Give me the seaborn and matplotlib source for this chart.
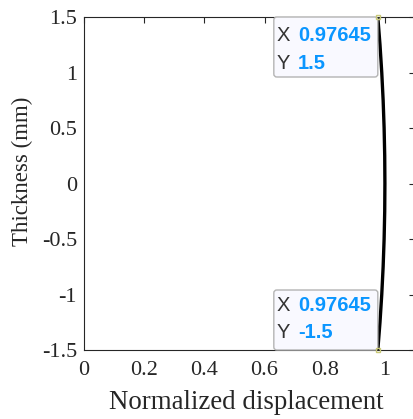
import numpy as np
import pandas as pd
import seaborn as sns
import matplotlib
matplotlib.use("Agg")
import matplotlib.pyplot as plt
from matplotlib.patches import FancyBboxPatch

# Data
thickness = [-1.5, -1.25, -1.0, -0.75, -0.5, -0.25, 0.0, 0.25, 0.5, 0.75, 1.0, 1.25, 1.5]
displacement = [0.97645, 0.98365, 0.98953, 0.99411, 0.99738, 0.99935, 1.0,
                0.99935, 0.99738, 0.99411, 0.98953, 0.98365, 0.97645]
x_ticks = [0, 0.2, 0.4, 0.6, 0.8, 1]
y_ticks = [-1.5, -1, -0.5, 0, 0.5, 1, 1.5]
tips = [(0.97645, 1.5, "top"), (0.97645, -1.5, "bottom")]

df = pd.DataFrame({"disp": displacement, "thick": thickness})

sns.set_style("white")
W, H, DPI = 413, 419, 100
fig = plt.figure(figsize=(W / DPI, H / DPI), dpi=DPI)
ax = fig.add_axes([84 / W, 1 - 350 / H, (415 - 84) / W, (350 - 17) / H])

sns.lineplot(data=df, x="disp", y="thick", orient="y", estimator=None,
             color="black", linewidth=2.4, ax=ax)

ax.set_xlim(0, 1.1)
ax.set_ylim(-1.5, 1.5)
ax.set_xticks(x_ticks)
ax.set_xticklabels([f"{v:g}" for v in x_ticks])
ax.set_yticks(y_ticks)
ax.set_yticklabels([f"{v:g}" for v in y_ticks])

serif = ["Liberation Serif", "DejaVu Serif"]
dark = "#262626"
for lab in ax.get_xticklabels() + ax.get_yticklabels():
    lab.set_fontfamily(serif)
    lab.set_fontsize(16)
    lab.set_color(dark)
ax.set_xlabel("Normalized displacement", fontfamily=serif, fontsize=19.4, color=dark)
ax.set_ylabel("Thickness (mm)", fontfamily=serif, fontsize=16.5, color=dark)
ax.xaxis.set_label_coords(0.49, -0.12)
ax.yaxis.set_label_coords(-0.153, 0.536)
ax.tick_params(direction="in", length=4, width=0.8, colors=dark, top=True, right=True,
               labelsize=16, pad=5)
ax.tick_params(axis="x", pad=8)
for s in ax.spines.values():
    s.set_visible(True)
    s.set_color(dark)
    s.set_linewidth(0.8)

# Data tips
pxx = (415 - 84) / 1.1   # pixels per x unit
pxy = (350 - 17) / 3.0   # pixels per y unit
bw, bh = 104, 60
sans = ["Liberation Sans", "DejaVu Sans"]
for xv, yv, pos in tips:
    x0 = xv - bw / pxx
    y0 = yv - bh / pxy if pos == "top" else yv
    box = FancyBboxPatch((x0, y0), bw / pxx, bh / pxy,
                         boxstyle=f"round,pad=0,rounding_size={3 / pxx}",
                         facecolor="#F9F9FF", edgecolor="#B4B4B4", linewidth=1.0,
                         mutation_aspect=pxx / pxy, zorder=5, clip_on=False)
    ax.add_patch(box)
    ax.plot([xv], [yv], marker="s", markersize=3, markerfacecolor="none",
            markeredgecolor="#C8C878", zorder=6, clip_on=False)
    top_px = 18 if pos == "top" else 288
    lines = [("X", f"{xv:g}"), ("Y", f"{yv:g}")]
    for i, (k, v) in enumerate(lines):
        cy = top_px + 17 + i * 28
        yd = 1.5 - (cy - 17) / pxy
        ax.text((277 - 84) / pxx, yd, k, fontfamily=sans, fontsize=14.5, color="#333333",
                va="center", ha="left", zorder=7)
        ax.text((298 - 84) / pxx, yd, v, fontfamily=sans, fontsize=14.5, color="#0A96FF",
                fontweight="bold", va="center", ha="left", zorder=7)

fig.savefig("out.png", dpi=DPI)
